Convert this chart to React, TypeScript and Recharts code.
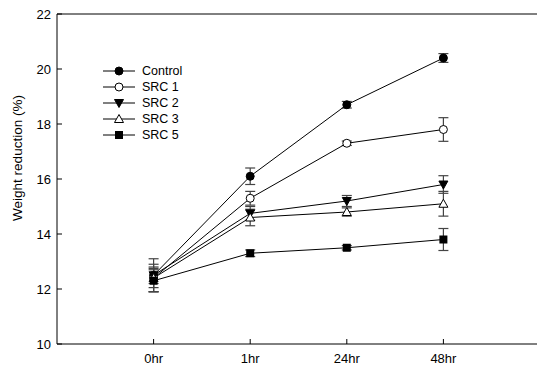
import React from 'react';
import {
  LineChart,
  Line,
  XAxis,
  YAxis,
  ErrorBar,
  ReferenceLine,
  Legend,
} from 'recharts';

const categories = ['0hr', '1hr', '24hr', '48hr'];
const yTicks = [10, 12, 14, 16, 18, 20, 22];

const control = [12.5, 16.1, 18.7, 20.4];
const controlErr = [0.6, 0.3, 0.12, 0.16];
const src1 = [12.4, 15.3, 17.3, 17.8];
const src1Err = [0.5, 0.25, 0.08, 0.43];
const src2 = [12.5, 14.75, 15.2, 15.8];
const src2Err = [0.3, 0.25, 0.2, 0.32];
const src3 = [12.4, 14.6, 14.8, 15.1];
const src3Err = [0.35, 0.3, 0.15, 0.45];
const src5 = [12.3, 13.3, 13.5, 13.8];
const src5Err = [0.4, 0.12, 0.08, 0.4];

type Kind = 'circle' | 'ocircle' | 'tdown' | 'otup' | 'square';

const series: { key: string; name: string; kind: Kind; values: number[]; errs: number[] }[] = [
  { key: 'c', name: 'Control', kind: 'circle', values: control, errs: controlErr },
  { key: 's1', name: 'SRC 1', kind: 'ocircle', values: src1, errs: src1Err },
  { key: 's2', name: 'SRC 2', kind: 'tdown', values: src2, errs: src2Err },
  { key: 's3', name: 'SRC 3', kind: 'otup', values: src3, errs: src3Err },
  { key: 's5', name: 'SRC 5', kind: 'square', values: src5, errs: src5Err },
];

const data = categories.map((label, i) => {
  const row: Record<string, number | string> = { x: i, label };
  series.forEach((s) => {
    row[s.key] = s.values[i];
    row[s.key + 'E'] = s.errs[i];
  });
  return row;
});

const FONT = "'Liberation Sans', Arial, sans-serif";

const Marker = ({ cx, cy, kind }: { cx: number; cy: number; kind: Kind }) => {
  if (kind === 'circle') return <circle cx={cx} cy={cy} r={4} fill="#000" stroke="#000" />;
  if (kind === 'ocircle') return <circle cx={cx} cy={cy} r={4} fill="#fff" stroke="#000" />;
  if (kind === 'square')
    return <rect x={cx - 4} y={cy - 4} width={8} height={8} fill="#000" />;
  if (kind === 'tdown')
    return (
      <polygon
        points={`${cx - 4.5},${cy - 3.5} ${cx + 4.5},${cy - 3.5} ${cx},${cy + 4.5}`}
        fill="#000"
        stroke="#000"
      />
    );
  return (
    <polygon
      points={`${cx - 4.5},${cy + 3.5} ${cx + 4.5},${cy + 3.5} ${cx},${cy - 4.5}`}
      fill="#fff"
      stroke="#000"
    />
  );
};

const YTick = (props: any) => {
  const { x, y, payload } = props;
  return (
    <g>
      <line x1={x} x2={x + 5} y1={y} y2={y} stroke="#000" />
      <text x={x - 6} y={y} dy={4.5} textAnchor="end" fontSize={13} fill="#000" fontFamily={FONT}>
        {payload.value}
      </text>
    </g>
  );
};

const XTick = (props: any) => {
  const { x, y, payload } = props;
  return (
    <g>
      <line x1={x} x2={x} y1={y} y2={y - 5} stroke="#000" />
      <text x={x} y={y} dy={19} textAnchor="middle" fontSize={13} fill="#000" fontFamily={FONT}>
        {categories[payload.value]}
      </text>
    </g>
  );
};

const LegendBox = () => (
  <div style={{ fontFamily: FONT, fontSize: 12.5, color: '#000' }}>
    {series.map((s) => (
      <div key={s.key} style={{ display: 'flex', alignItems: 'center', height: 16 }}>
        <svg width={40} height={16}>
          <line x1={3} x2={35} y1={8} y2={8} stroke="#000" />
          <Marker cx={19} cy={8} kind={s.kind} />
        </svg>
        <span style={{ marginLeft: 2 }}>{s.name}</span>
      </div>
    ))}
  </div>
);

export default function App() {
  return (
    <div
      style={{
        position: 'absolute',
        left: 0,
        top: 0,
        width: 537,
        height: 365,
        overflow: 'hidden',
        background: '#fff',
      }}
    >
      <LineChart width={560} height={365} data={data} margin={{ top: 14, right: 20, left: 0, bottom: 0 }}>
        <XAxis
          dataKey="x"
          type="number"
          domain={[-1, 4]}
          ticks={[0, 1, 2, 3]}
          height={21}
          tickSize={0}
          tickMargin={0}
          tickLine={false}
          tick={<XTick />}
          axisLine={{ stroke: '#000' }}
        />
        <YAxis
          type="number"
          domain={[10, 22]}
          ticks={yTicks}
          width={57}
          tickSize={0}
          tickMargin={0}
          tickLine={false}
          tick={<YTick />}
          axisLine={{ stroke: '#000' }}
          label={() => (
            <text
              x={18}
              y={158}
              transform="rotate(-90 18 158)"
              textAnchor="middle"
              dominantBaseline="middle"
              fontSize={13.5}
              fontFamily={FONT}
              fill="#000"
            >
              Weight reduction (%)
            </text>
          )}
        />
        <ReferenceLine y={22} stroke="#000" />
        <Legend
          layout="vertical"
          align="center"
          verticalAlign="middle"
          content={<LegendBox />}
          wrapperStyle={{ left: 100, top: 63, width: 120 }}
        />
        {series.map((s) => (
          <Line
            key={s.key}
            dataKey={s.key}
            name={s.name}
            stroke="#000"
            strokeWidth={1}
            isAnimationActive={false}
            dot={(p: any) => <Marker key={p.index} cx={p.cx} cy={p.cy} kind={s.kind} />}
            activeDot={false}
          >
            <ErrorBar dataKey={s.key + 'E'} width={5} stroke="#444" strokeWidth={1.2} direction="y" />
          </Line>
        ))}
      </LineChart>
    </div>
  );
}
